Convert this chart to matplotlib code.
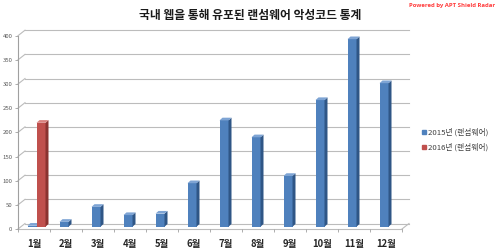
import numpy as np
import matplotlib
matplotlib.use('Agg')
import matplotlib.pyplot as plt
from matplotlib.patches import Polygon, Patch

plt.rcParams['font.family'] = ['Noto Sans CJK KR', 'DejaVu Sans']

# data
months = ['1월', '2월', '3월', '4월', '5월', '6월', '7월', '8월', '9월', '10월', '11월', '12월']
ransom_2015 = [2, 10, 41, 24, 27, 90, 220, 185, 105, 262, 388, 297]
ransom_2016 = [215, None, None, None, None, None, None, None, None, None, None, None]
series_names = ['2015년 (랜섬웨어)', '2016년 (랜섬웨어)']
y_ticks = list(range(0, 401, 50))

title = '국내 웹을 통해 유포된 랜섬웨어 악성코드 통계'
credit = 'Powered by APT Shield Radar'

W_PX, H_PX = 500, 249
fig = plt.figure(figsize=(W_PX / 100, H_PX / 100), dpi=100)

# axes box = front plane of the pseudo-3D chart
left, right, bottom, top = 18, 402, 229, 35.7
ax = fig.add_axes([left / W_PX, (H_PX - bottom) / H_PX,
                   (right - left) / W_PX, (bottom - top) / H_PX])
ax.set_xlim(-0.5, len(months) - 0.5)
ax.set_ylim(0, 400)

# pixel -> data unit helpers
ux = len(months) / (right - left)
uy = 400 / (bottom - top)

grid_c = '#bcbcbc'
# back wall gridlines with their slanted ends on the side wall
wdx, wdy = 7 * ux, 5.5 * uy
x0, x1 = -0.5, len(months) - 0.5
for v in y_ticks:
    ax.plot([x0 + wdx, x1 + wdx], [v + wdy, v + wdy], color=grid_c, lw=0.8, clip_on=False, zorder=1)
    ax.plot([x0, x0 + wdx], [v, v + wdy], color=grid_c, lw=0.8, clip_on=False, zorder=1)
# floor
ax.plot([x0, x1], [0, 0], color=grid_c, lw=0.8, clip_on=False, zorder=1)
ax.plot([x1, x1 + wdx], [0, wdy], color=grid_c, lw=0.8, clip_on=False, zorder=1)

colors = {
    0: ('#4f81bd', '#2f5686', '#7ea4d4'),
    1: ('#c0504d', '#8b3330', '#d9827f'),
}
bw = 9 * ux
bx, by = 2.5 * ux, 2.3 * uy
ddx, ddy = 3 * ux, 2.7 * uy
x = np.arange(len(months))

for s, vals in enumerate([ransom_2015, ransom_2016]):
    front, side, topc = colors[s]
    xs = x + (s - 0.5) * bw + bx
    for xi, v in zip(xs, vals):
        if v is None:
            continue
        ax.bar(xi, v, width=bw, bottom=by, color=front, zorder=3)
        xl, xr = xi - bw / 2, xi + bw / 2
        t = by + v
        ax.add_patch(Polygon([(xr, by), (xr + ddx, by + ddy), (xr + ddx, t + ddy), (xr, t)],
                             closed=True, color=side, zorder=3, lw=0))
        ax.add_patch(Polygon([(xl, t), (xr, t), (xr + ddx, t + ddy), (xl + ddx, t + ddy)],
                             closed=True, color=topc, zorder=3, lw=0))

for sp in ['top', 'right', 'bottom']:
    ax.spines[sp].set_visible(False)
ax.spines['left'].set_color('#a0a0a0')
ax.spines['left'].set_linewidth(0.8)

ax.set_yticks(y_ticks)
ax.set_yticklabels([str(v) for v in y_ticks], fontsize=4.3, color='#595959')
ax.tick_params(axis='y', length=2, width=0.6, color='#a0a0a0', pad=2)

ax.set_xticks(x)
ax.set_xticklabels(months, fontsize=6.8, fontweight='bold', color='#262626')
ax.set_xticks(np.arange(-0.5, len(months), 1), minor=True)
ax.tick_params(axis='x', which='major', length=0, pad=7)
ax.tick_params(axis='x', which='minor', length=2, width=0.6, color='#a0a0a0')
ax.patch.set_visible(False)

fig.text(0.5, 1 - 15.5 / H_PX, title, ha='center', va='center', fontsize=8.5, fontweight='bold', color='#1a1a1a')
fig.text(495 / W_PX, 1 - 5 / H_PX, credit, ha='right', va='center', fontsize=4.3,
         fontweight='bold', color='#ff3b3b', family=['Open Sans', 'DejaVu Sans'])

handles = [Patch(color=colors[0][0]), Patch(color=colors[1][0])]
fig.legend(handles, series_names, loc='center left', bbox_to_anchor=(422 / W_PX, 1 - 140 / H_PX),
           frameon=False, fontsize=5.6, handlelength=0.5, handleheight=0.5, handletextpad=0.3,
           labelspacing=0.9, labelcolor='#404040', borderaxespad=0, borderpad=0)

fig.savefig('out.png', dpi=100)
